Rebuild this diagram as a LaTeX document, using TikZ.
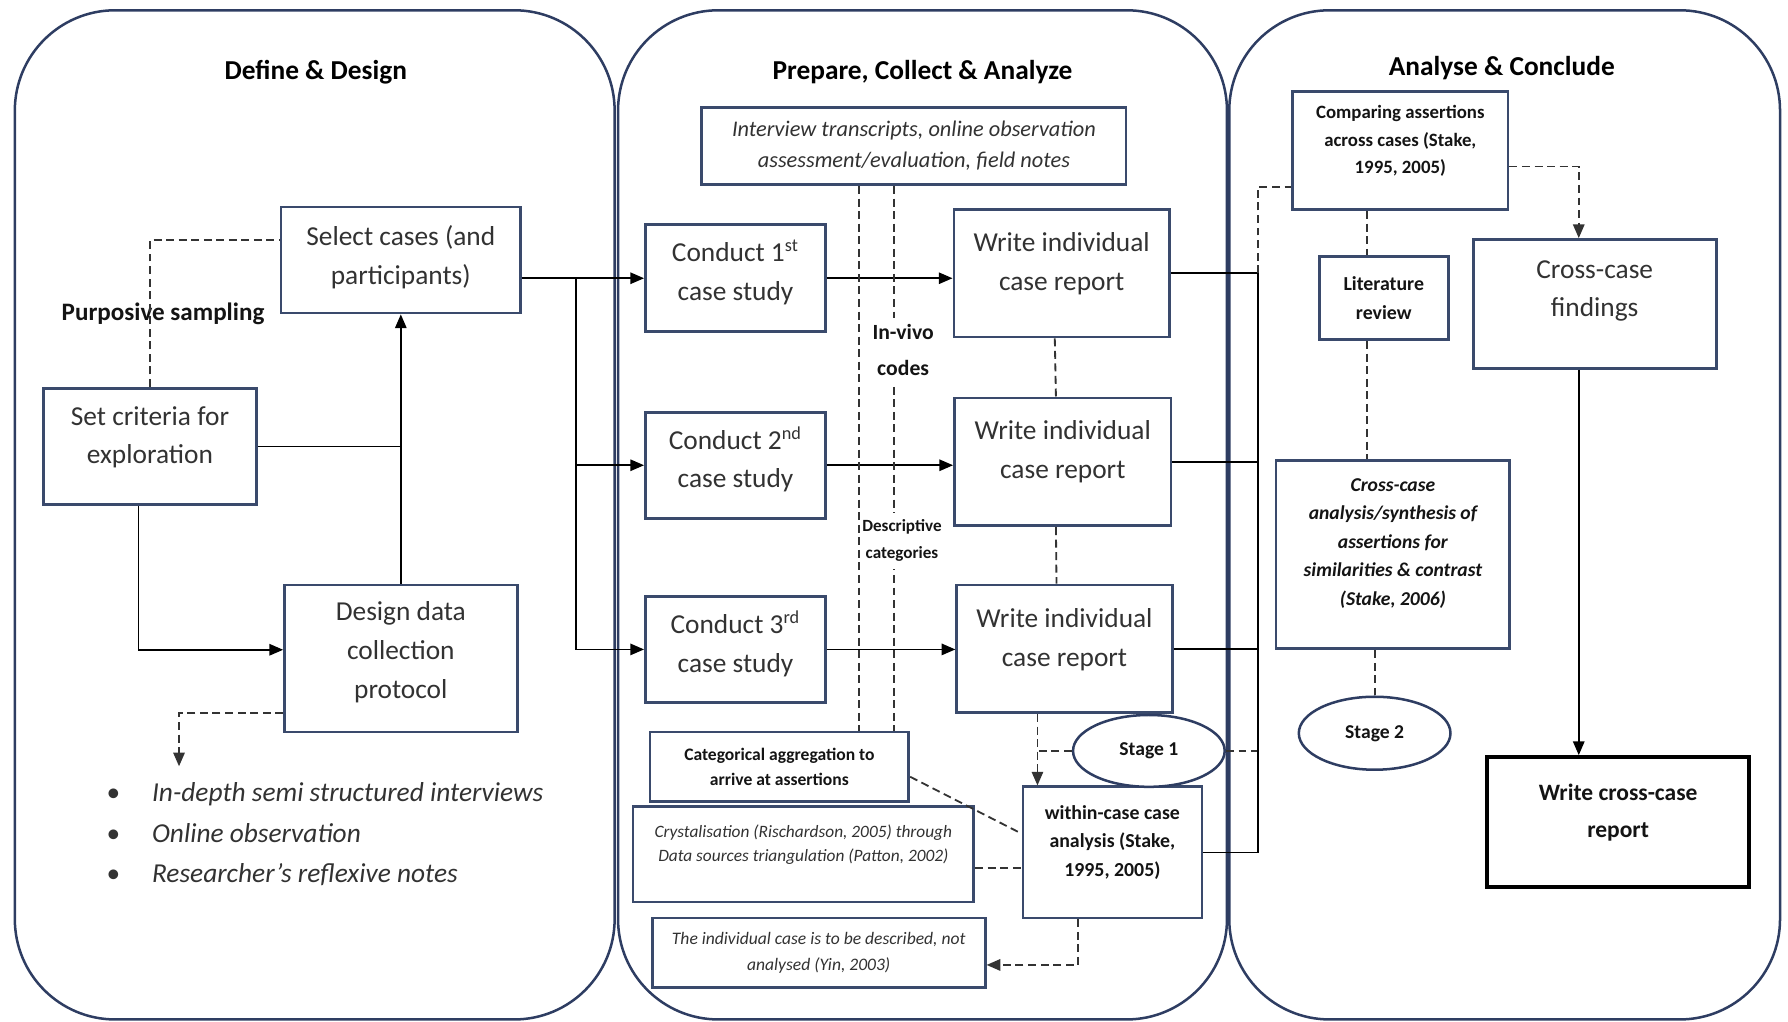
\documentclass[tikz,border=0pt]{standalone}
\usepackage{fontspec}
\setmainfont{Carlito}
\usetikzlibrary{arrows.meta,shapes.geometric}

\definecolor{panelline}{RGB}{46,61,98}
\definecolor{boxline}{RGB}{58,74,108}
\definecolor{boxtext}{RGB}{50,50,50}
\definecolor{boldtext}{RGB}{20,20,20}

\newcommand*{\fsz}[2]{\fontsize{#1}{#2}\selectfont}

\begin{document}
\begin{tikzpicture}
[
	x=0.5pt,y=-0.5pt,
	>={Triangle[length=6pt,width=5pt]},
	panel/.style={draw=panelline,line width=1.1pt,rounded corners=44pt},
	paneltitle/.style={font=\fsz{12}{14}\bfseries,text=black},
	box/.style={draw=boxline,line width=1.2pt,fill=white,align=center,text=boxtext,inner sep=1pt},
	boxsize/.style 2 args={minimum width=#1*0.5pt,minimum height=#2*0.5pt},
	bigtext/.style={font=\fsz{12}{17}},
	stage/.style={ellipse,draw=panelline,line width=1.1pt,fill=white,text=boldtext,font=\fsz{8.6}{10}\bfseries,inner sep=0pt},
	codelabel/.style={fill=white,align=center,text=boldtext,inner xsep=1pt,inner ysep=3pt},
	link/.style={line width=0.7pt,black},
	dashline/.style={line width=0.8pt,black!80,dash pattern=on 3.5pt off 2pt}
]

	\useasboundingbox (0,0) rectangle (1568,896);

	% panels
	\draw[panel] (13,9) rectangle (539,894);
	\draw[panel] (542,9) rectangle (1076,894);
	\draw[panel] (1078,9) rectangle (1561,894);

	\node[paneltitle] (ttlA) at (277,63) {Define \& Design};
	\node[paneltitle] (ttlB) at (809,63) {Prepare, Collect \& Analyze};
	\node[paneltitle] (ttlC) at (1317,60) {Analyse \& Conclude};

	% define & design
	\node[box,bigtext,boxsize={210}{93},text depth=4.5pt] (sel) at (351.5,228) {Select cases (and\\participants)};
	\node[box,bigtext,boxsize={187}{102},text depth=10pt] (crit) at (131.5,391.5) {Set criteria for\\exploration};
	\node[box,bigtext,boxsize={204}{129},text depth=7.5pt] (dsg) at (351.5,577.5) {Design data\\collection\\protocol};
	\node[text=boldtext,font=\fsz{11}{13}\bfseries] (purp) at (143,275) {Purposive sampling};
	\coordinate (listtop) at (157,672);
	\node[anchor=base west,inner sep=0pt,text=boxtext,font=\fsz{12}{17.75}\itshape] (bullets) at (93,703)
		{\begin{tabular}[t]{@{}l@{\hspace{14pt}}l@{}}
		\upshape\textbullet & In-depth semi structured interviews\\
		\upshape\textbullet & Online observation\\
		\upshape\textbullet & Researcher’s reflexive notes
		\end{tabular}};

	\draw[dashline] (crit.north) |- ([yshift=8.75pt]sel.west);
	\draw[link] (crit.east) -- (crit.east -| sel.south);
	\draw[link,->] (dsg.north) -- (sel.south);
	\draw[link,->] ([xshift=-5pt]crit.south) |- ([yshift=3.85pt]dsg.west);
	\draw[dashline,->] ([yshift=-24pt]dsg.west) -| (listtop);

	% prepare, collect & analyze
	\node[box,boxsize={372}{68},font=\fsz{9.8}{13.5}\itshape] (itv) at (801.5,128) {Interview transcripts, online observation\\assessment/evaluation, field notes};
	\node[box,bigtext,boxsize={158}{94},text depth=7pt] (c1) at (645,244) {Conduct 1\textsuperscript{st}\\case study};
	\node[box,bigtext,boxsize={158}{93},text depth=7pt] (c2) at (645,408) {Conduct 2\textsuperscript{nd}\\case study};
	\node[box,bigtext,boxsize={158}{93},text depth=7pt] (c3) at (645,569.5) {Conduct 3\textsuperscript{rd}\\case study};
	\node[box,bigtext,boxsize={189}{112},text depth=10.5pt] (w1) at (931,239.5) {Write individual\\case report};
	\node[box,bigtext,boxsize={190}{112},text depth=11pt] (w2) at (932,405) {Write individual\\case report};
	\node[box,bigtext,boxsize={189}{112},text depth=10pt] (w3) at (933.5,569) {Write individual\\case report};
	\node[box,boxsize={227}{61},text=boldtext,font=\fsz{7.7}{11}\bfseries] (cat) at (683.5,672.5) {Categorical aggregation to\\arrive at assertions};
	\node[box,boxsize={299}{84},text depth=10pt,font=\fsz{7.6}{10.5}\itshape] (cry) at (704.5,749) {Crystalisation (Rischardson, 2005) through\\Data sources triangulation (Patton, 2002)};
	\node[box,boxsize={292}{61},font=\fsz{7.7}{11.5}\itshape] (ind) at (718,835.5) {The individual case is to be described, not\\analysed (Yin, 2003)};
	\node[box,boxsize={157}{115},text depth=10.3pt,text=boldtext,font=\fsz{8.7}{12.5}\bfseries] (wc) at (975.5,747.5) {within-case case\\analysis (Stake,\\1995, 2005)};
	\node[stage,minimum width=66.5pt,minimum height=31.5pt] (st1) at (1007.5,658.5) {Stage 1};

	\coordinate (fork) at (505,244);
	\draw[link,->] (sel.east |- c1.west) -- (c1.west);
	\draw[link,->] (fork) |- (c2.west);
	\draw[link,->] (fork) |- (c3.west);
	\draw[link,->] (c1.east) -- (c1.east -| w1.west);
	\draw[link,->] (c2.east) -- (c2.east -| w2.west);
	\draw[link,->] (c3.east) -- (c3.east -| w3.west);

	\coordinate (codeL) at (753.5,0);
	\coordinate (codeR) at (784,0);
	\draw[dashline] (itv.south -| codeR) -- (cat.north -| codeR);
	\node[codelabel,font=\fsz{9.5}{15.5}\bfseries] (vivo) at (792,307) {In-vivo\\codes};
	\node[codelabel,font=\fsz{7.5}{12}\bfseries] (descr) at (791,474) {Descriptive\\categories};
	\draw[dashline] (itv.south -| codeL) -- (cat.north -| codeL);

	\draw[dashline] ([xshift=-3pt]w1.south) -- ([xshift=-3pt]w2.north);
	\draw[dashline] ([xshift=-3pt]w2.south) -- ([xshift=-3.5pt]w3.north);

	\coordinate (tap) at ([xshift=7pt]wc.north west);
	\coordinate (spine) at (1103,0);
	\draw[dashline,->] (tap |- w3.south) -- (tap);
	\draw[dashline] (st1.west) -- (st1.west -| tap);
	\draw[dashline] (st1.east) -- (st1.east -| spine);
	\draw[dashline] ([yshift=-4.35pt]cat.east) -- ([yshift=8.25pt]wc.west);
	\coordinate (cryout) at ([yshift=-6pt]cry.east);
	\draw[dashline] (cryout) -- (cryout -| wc.west);
	\coordinate (wcdown) at ([xshift=-15pt]wc.south);
	\draw[dashline,->] (wcdown) |- ([yshift=-5.35pt]ind.east);

	\draw[link] (w1.east) -| (spine |- wc.east) -- (wc.east);
	\draw[link] (w2.east) -- (w2.east -| spine);
	\draw[link] (w3.east) -- (w3.east -| spine);

	% analyse & conclude
	\node[box,boxsize={189}{104},text depth=9.7pt,text=boldtext,font=\fsz{8.25}{12}\bfseries] (cmp) at (1228,132) {Comparing assertions\\across cases (Stake,\\1995, 2005)};
	\node[box,boxsize={113}{73},text=boldtext,font=\fsz{8.7}{12.5}\bfseries] (lit) at (1213.5,261.5) {Literature\\review};
	\node[box,boxsize={205}{165},text depth=11.3pt,text=boldtext,font=\fsz{8.6}{12.5}\bfseries\itshape] (cca) at (1221.5,486.5) {Cross-case\\analysis/synthesis of\\assertions for\\similarities \& contrast\\(Stake, 2006)};
	\node[stage,minimum width=66.5pt,minimum height=32pt] (st2) at (1205.5,643) {Stage 2};
	\node[box,bigtext,boxsize={213}{113},text depth=13.5pt] (ccf) at (1398.5,266.5) {Cross-case\\findings};
	\node[box,draw=black,line width=1.8pt,boxsize={230}{114},text depth=10pt,text=boldtext,font=\fsz{10.3}{16}\bfseries] (wcr) at (1419,721) {Write cross-case\\report};

	\draw[dashline] (spine |- w1.east) |- ([yshift=-16pt]cmp.west);
	\coordinate (crossx) at (1384.5,0);
	\draw[dashline,->] ([yshift=-7pt]cmp.east) -| (crossx |- ccf.north);
	\draw[link,->] (crossx |- ccf.south) -- (crossx |- wcr.north);
	\coordinate (litx) at ([xshift=-7.5pt]lit.north);
	\draw[dashline] (litx |- cmp.south) -- (litx);
	\draw[dashline] (litx |- lit.south) -- (litx |- cca.north);
	\draw[dashline] (cca.south -| st2.north) -- (st2.north);

\end{tikzpicture}
\end{document}
